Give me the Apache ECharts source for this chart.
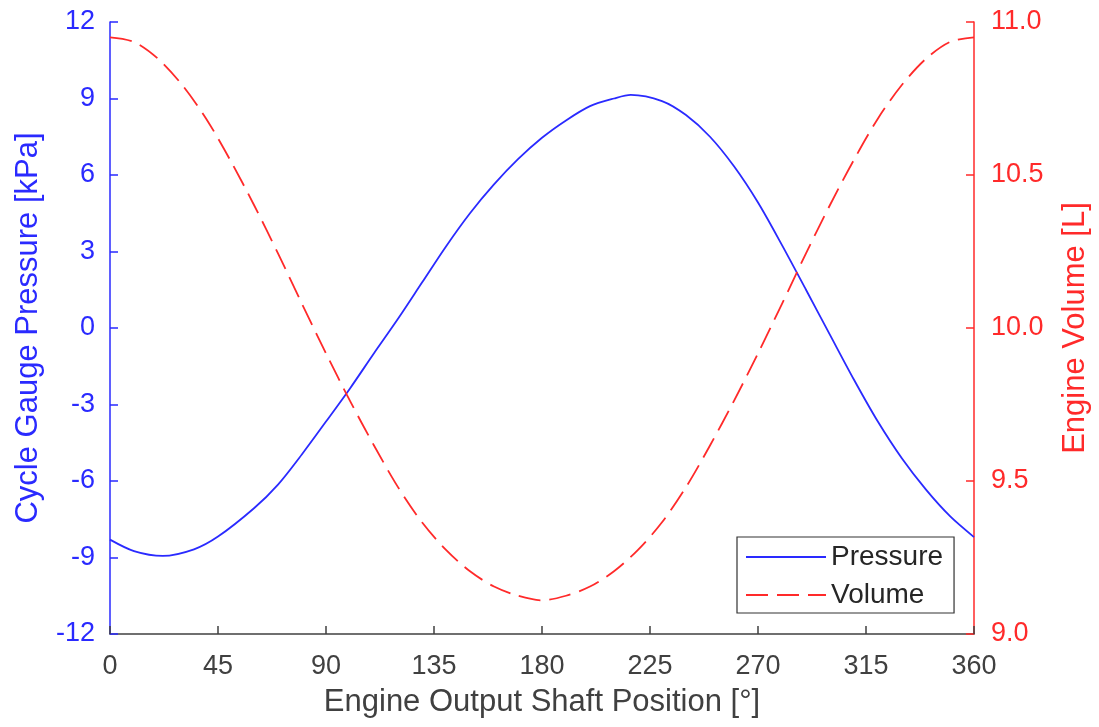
<!DOCTYPE html>
<html>
<head>
<meta charset="utf-8">
<script src="https://cdn.jsdelivr.net/npm/echarts@6/dist/echarts.min.js"></script>
<style>
  html, body { margin: 0; padding: 0; background: #fff; }
  #chart { width: 1099px; height: 727px; }
</style>
</head>
<body>
<div id="chart"></div>
<script>
// shaft angle for the pressure trace, degrees (extra point at the minimum / maximum)
const pressureAngles = [0, 10, 22, 35, 45, 60, 70, 80, 90, 100, 110, 120, 130, 140, 150, 160, 170, 180,
  190, 200, 210, 217, 230, 240, 250, 260, 270, 280, 290, 300, 310, 320, 330, 340, 350, 360];
// cycle gauge pressure, kPa
const pressure = [-8.3, -8.75, -8.94, -8.68, -8.18, -7.07, -6.14, -4.95, -3.67, -2.37, -0.99, 0.36, 1.78, 3.2, 4.5, 5.63, 6.62, 7.46,
  8.14, 8.7, 9.0, 9.14, 8.9, 8.35, 7.5, 6.34, 4.92, 3.25, 1.5, -0.27, -2.03, -3.68, -5.12, -6.34, -7.38, -8.2];

// shaft angle for the volume trace, degrees
const volumeAngles = [0, 10, 20, 30, 40, 50, 60, 70, 80, 90, 100, 110, 120, 130, 140, 150, 160, 170, 180,
  190, 200, 210, 220, 230, 240, 250, 260, 270, 280, 290, 300, 310, 320, 330, 340, 350, 360];
// engine volume, L
const volume = [10.95, 10.935, 10.88, 10.795, 10.685, 10.55, 10.402, 10.244, 10.079, 9.917, 9.762, 9.616, 9.48, 9.365, 9.275, 9.205, 9.155, 9.125, 9.11,
  9.125, 9.155, 9.205, 9.275, 9.365, 9.48, 9.616, 9.762, 9.917, 10.079, 10.244, 10.402, 10.55, 10.685, 10.795, 10.88, 10.935, 10.95];

const BLUE = '#2a2aff';
const RED = '#ff2a2a';
const GREY = '#404040';
const FONT = '"Liberation Sans", Arial, sans-serif';

const chart = echarts.init(document.getElementById('chart'));

chart.setOption({
  animation: false,
  textStyle: { fontFamily: FONT },
  grid: { left: 110, right: 121, top: 22, bottom: 93 },
  legend: {
    orient: 'vertical',
    left: 737,
    top: 537,
    padding: [6, 11, 4, 8],
    itemGap: 10,
    itemWidth: 80,
    itemHeight: 14,
    backgroundColor: '#fff',
    borderColor: '#333',
    borderWidth: 1.2,
    borderRadius: 0,
    itemStyle: { opacity: 0 },
    textStyle: { fontSize: 28, color: '#262626', fontFamily: FONT },
    data: ['Pressure', 'Volume']
  },
  xAxis: {
    type: 'value',
    min: 0,
    max: 360,
    interval: 45,
    name: 'Engine Output Shaft Position [°]',
    nameLocation: 'middle',
    nameGap: 53,
    nameTextStyle: { fontSize: 31, color: GREY },
    axisLine: { onZero: false, lineStyle: { color: GREY, width: 1.5 } },
    axisTick: { inside: true, length: 8, lineStyle: { color: GREY, width: 1.5 } },
    axisLabel: { fontSize: 27, color: GREY, margin: 19 },
    splitLine: { show: false }
  },
  yAxis: [
    {
      type: 'value',
      position: 'left',
      min: -12,
      max: 12,
      interval: 3,
      name: 'Cycle Gauge Pressure [kPa]',
      nameLocation: 'middle',
      nameGap: 66,
      nameTextStyle: { fontSize: 31, color: BLUE },
      axisLine: { show: true, onZero: false, lineStyle: { color: BLUE, width: 1.5 } },
      axisTick: { show: true, inside: true, length: 8, lineStyle: { color: BLUE, width: 1.5 } },
      axisLabel: { fontSize: 27, color: BLUE, margin: 15 },
      splitLine: { show: false }
    },
    {
      type: 'value',
      position: 'right',
      min: 9,
      max: 11,
      interval: 0.5,
      name: 'Engine Volume [L]',
      nameLocation: 'middle',
      nameGap: 86,
      nameRotate: 90,
      nameTextStyle: { fontSize: 31, color: RED },
      axisLine: { show: true, onZero: false, lineStyle: { color: RED, width: 1.5 } },
      axisTick: { show: true, inside: true, length: 8, lineStyle: { color: RED, width: 1.5 } },
      axisLabel: { fontSize: 27, color: RED, margin: 17, formatter: v => v.toFixed(1) },
      splitLine: { show: false }
    }
  ],
  series: [
    {
      name: 'Pressure',
      type: 'line',
      yAxisIndex: 0,
      data: pressureAngles.map((a, i) => [a, pressure[i]]),
      smooth: 0.3,
      symbol: 'none',
      lineStyle: { color: BLUE, width: 1.8 },
      itemStyle: { color: BLUE }
    },
    {
      name: 'Volume',
      type: 'line',
      yAxisIndex: 1,
      data: volumeAngles.map((a, i) => [a, volume[i]]),
      smooth: 0.3,
      symbol: 'none',
      lineStyle: { color: RED, width: 1.8, type: [22, 9] },
      itemStyle: { color: RED }
    }
  ]
});
</script>
</body>
</html>
